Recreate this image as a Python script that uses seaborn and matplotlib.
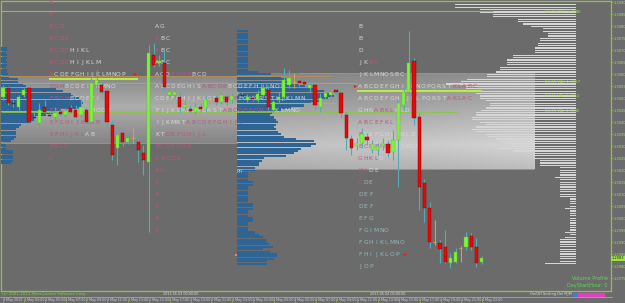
import numpy as np
import matplotlib
matplotlib.use("Agg")
import matplotlib.pyplot as plt
from matplotlib.lines import Line2D
import seaborn as sns

sns.set_theme(style="dark")
plt.rcParams['font.family'] = ['DejaVu Sans']

# ---------------- data ----------------
opens = [1.30504, 1.30542, 1.30479, 1.30463, 1.30513, 1.30542, 1.30421, 1.30396, 1.30463, 1.30429,
         1.30421, 1.30442, 1.30429, 1.30458, 1.30450, 1.30429, 1.30450, 1.30400, 1.30554, 1.30554,
         1.30529, 1.30388, 1.30292, 1.30354, 1.30317, 1.30333, 1.30317, 1.30271, 1.30233, 1.30679,
         1.30646, 1.30646, 1.30513, 1.30513, 1.30504, 1.30463, 1.30454, 1.30442, 1.30463, 1.30458,
         1.30492, 1.30500, 1.30483, 1.30504, 1.30492, 1.30521, 1.30513, 1.30492, 1.30500, 1.30492,
         1.30513, 1.30533, 1.30450, 1.30492, 1.30504, 1.30554, 1.30567, 1.30571, 1.30567, 1.30542,
         1.30554, 1.30463, 1.30504, 1.30513, 1.30533, 1.30521, 1.30429, 1.30329, 1.30300, 1.30313,
         1.30338, 1.30283, 1.30283, 1.30300, 1.30308, 1.30275, 1.30325, 1.30471, 1.30525, 1.30654,
         1.30421, 1.30146, 1.30042, 1.29900, 1.29896, 1.29879, 1.29813, 1.29817, 1.29875, 1.29879,
         1.29925, 1.29879, 1.29817]
highs = [1.30554, 1.30550, 1.30492, 1.30513, 1.30542, 1.30554, 1.30442, 1.30479, 1.30492, 1.30442,
         1.30463, 1.30450, 1.30458, 1.30471, 1.30471, 1.30500, 1.30463, 1.30608, 1.30617, 1.30567,
         1.30546, 1.30408, 1.30379, 1.30375, 1.30342, 1.30379, 1.30333, 1.30304, 1.30721, 1.30729,
         1.30679, 1.30700, 1.30542, 1.30538, 1.30525, 1.30492, 1.30471, 1.30479, 1.30475, 1.30508,
         1.30504, 1.30513, 1.30525, 1.30517, 1.30521, 1.30529, 1.30525, 1.30517, 1.30513, 1.30533,
         1.30558, 1.30554, 1.30492, 1.30525, 1.30625, 1.30617, 1.30604, 1.30588, 1.30583, 1.30575,
         1.30563, 1.30521, 1.30542, 1.30542, 1.30550, 1.30533, 1.30442, 1.30346, 1.30333, 1.30375,
         1.30354, 1.30325, 1.30313, 1.30333, 1.30325, 1.30367, 1.30492, 1.30542, 1.30783, 1.30667,
         1.30438, 1.30163, 1.30067, 1.29992, 1.29908, 1.29950, 1.29854, 1.29875, 1.29883, 1.29942,
         1.29938, 1.29917, 1.29842]
lows = [1.30492, 1.30471, 1.30463, 1.30450, 1.30504, 1.30396, 1.30400, 1.30379, 1.30438, 1.30417,
        1.30408, 1.30425, 1.30421, 1.30438, 1.30417, 1.30421, 1.30396, 1.30396, 1.30542, 1.30517,
        1.30367, 1.30242, 1.30221, 1.30300, 1.30308, 1.30313, 1.30233, 1.30179, 1.29942, 1.30629,
        1.30633, 1.30525, 1.30504, 1.30500, 1.30438, 1.30450, 1.30438, 1.30429, 1.30446, 1.30442,
        1.30479, 1.30471, 1.30475, 1.30471, 1.30479, 1.30513, 1.30500, 1.30483, 1.30488, 1.30483,
        1.30500, 1.30450, 1.30438, 1.30479, 1.30492, 1.30542, 1.30542, 1.30550, 1.30546, 1.30525,
        1.30450, 1.30442, 1.30492, 1.30492, 1.30513, 1.30417, 1.30283, 1.30263, 1.30283, 1.30292,
        1.30304, 1.30271, 1.30263, 1.30283, 1.30254, 1.30242, 1.30129, 1.30450, 1.30513, 1.30388,
        1.30033, 1.29983, 1.29875, 1.29888, 1.29813, 1.29813, 1.29792, 1.29813, 1.29817, 1.29867,
        1.29867, 1.29796, 1.29808]
closes = [1.30542, 1.30479, 1.30475, 1.30504, 1.30533, 1.30400, 1.30417, 1.30450, 1.30442, 1.30425,
          1.30438, 1.30433, 1.30446, 1.30442, 1.30421, 1.30463, 1.30400, 1.30563, 1.30575, 1.30525,
          1.30400, 1.30263, 1.30346, 1.30317, 1.30333, 1.30333, 1.30283, 1.30242, 1.30688, 1.30638,
          1.30654, 1.30546, 1.30525, 1.30525, 1.30463, 1.30471, 1.30446, 1.30463, 1.30454, 1.30492,
          1.30492, 1.30483, 1.30513, 1.30483, 1.30508, 1.30521, 1.30508, 1.30504, 1.30496, 1.30517,
          1.30542, 1.30463, 1.30483, 1.30504, 1.30575, 1.30583, 1.30567, 1.30563, 1.30558, 1.30554,
          1.30471, 1.30500, 1.30521, 1.30525, 1.30525, 1.30438, 1.30333, 1.30292, 1.30313, 1.30350,
          1.30325, 1.30308, 1.30296, 1.30313, 1.30271, 1.30325, 1.30479, 1.30525, 1.30646, 1.30417,
          1.30129, 1.30042, 1.29900, 1.29900, 1.29871, 1.29817, 1.29833, 1.29858, 1.29875, 1.29921,
          1.29879, 1.29813, 1.29833]

# volume profile 3 May (blue, from price 1.3071 downwards, 1 pip rows)
blue1_top = 1.3071
blue1_vol = [6, 6, 5, 6, 6, 5, 6, 6, 5, 6, 6, 7, 8, 17, 17, 22, 25, 55, 62, 70,
             72, 78, 80, 82, 80, 78, 60, 55, 45, 33, 33, 30, 20, 18, 15, 15, 15, 15, 13, 10,
             5, 5, 5, 12, 12, 12, 12, 12, 10]
# volume profile 4 May (blue, from price 1.3078 downwards)
blue2_top = 1.3078
blue2_vol = [11] * 17 + [21, 35, 45, 50, 55, 62, 70, 80, 88, 95, 98, 92, 85, 75, 68, 55, 45, 36, 34,
             38, 40, 42, 40, 38, 40, 42, 45, 48,
             60, 78, 80, 75, 65, 62, 58, 50, 28, 25, 22, 22, 18, 18,
             11, 11, 11, 11, 16, 16, 11, 11, 11, 11, 11, 11, 11, 16, 16, 16, 11, 11, 11, 16, 16,
             11, 11, 11, 11, 18, 22, 26, 30, 31, 33, 37, 27, 34, 41, 41, 38, 31, 31]
# right-hand profile (white lines, from price 1.3089 downwards)
white_top = 1.3089
white_vol = [121, 121, 96, 96, 83, 83, 58, 58, 53, 45, 33, 33, 28, 28, 36, 36, 38, 38, 41, 41,
             41, 63, 63, 69, 69, 69, 76, 76, 80, 89, 89, 109, 115, 130, 110, 110, 105, 100, 96, 96,
             90, 86, 86, 90, 95, 100, 100, 104, 104, 96, 90, 100, 104, 100, 90, 88, 80, 76, 70, 64,
             78, 63, 43, 43, 43, 36, 36, 36, 16, 16, 16, 16, 21, 16, 16, 16, 16, 16, 16, 16,
             16, 6, 6, 6, 6, 11, 6, 6, 6, 6, 6, 6, 6, 6, 6, 11, 6, 11, 16, 16,
             16, 16, 16, 16, 16, 16, 16, 16, 31]

# value-area bands: (x start bar, x end bar, high price, low price)
band1 = (-0.4, 44.9, 1.30588, 1.30313)
band2 = (44.9, 102.1, 1.30604, 1.30204)

# horizontal level lines: price, from bar, to bar, colour, width
levels = [
    (1.30863, -0.4, 94.2, '#8cc63f', 0.8),
    (1.30592, -0.4, 63.0, '#b09060', 0.7),
    (1.30604, 57.0, 94.2, '#b09060', 0.7),
    (1.30563, -0.4, 68.0, '#8cc63f', 0.6),
    (1.30579, 8.8, 25.9, '#b8f040', 1.4),
    (1.30529, 68.1, 92.1, '#b8f040', 1.4),
    (1.30479, 29.0, 64.3, '#8cc63f', 0.8),
    (1.30442, -0.4, 87.3, '#8cc63f', 0.6),
    (1.30313, -0.4, 44.9, '#b09060', 0.7),
    (1.30204, 44.9, 102.1, '#b09060', 0.7),
]

# TPO letter columns (lowercase = earlier period, drawn pink)
tpo_col1_x = 9.2
tpo_col1 = [(1.3090, "b"), (1.3085, "b"), (1.3080, "bcd"), (1.3075, "bcde"),
            (1.3070, "bcdeHIKL"), (1.3065, "bcdeHIJKLM"), (1.3060, "bCDEFGHIJKLMNOP"),
            (1.3055, "eghBCDEIJKMNO"), (1.3050, "efghBCDEFI"), (1.3045, "efghIJKLMODE"),
            (1.3040, "efghijklab"), (1.3035, "efhijklAB"), (1.3030, "eglo"), (1.3025, "c")]
tpo_col2_x = 29.6
tpo_col2 = [(1.3080, "AG"), (1.3075, "aBC"), (1.3070, "aBC"), (1.3065, "ABC"),
            (1.3060, "ACOefghBCD"), (1.3055, "ABCDEGHISabcdeBCDEFHIJNOP"),
            (1.3050, "CDEFGHIJKLGSTcdeFGHQRSTIJKLMN"), (1.3045, "FIJKLMNOPQRSTabcdefghijKLMNO"),
            (1.3040, "IJKMRTabcdefghijl"), (1.3035, "KTdefghijl"), (1.3030, "bcdefgh"),
            (1.3025, "abcde"), (1.3020, "aa"), (1.3015, "a"), (1.3010, "a"), (1.3005, "a"),
            (1.3000, "a"), (1.2995, "a")]
tpo_col3_x = 68.7
tpo_col3 = [(1.3080, "B"), (1.3075, "B"), (1.3070, "D"), (1.3065, "JKbc"), (1.3060, "JKLMNOSBC"),
            (1.3055, "ABCDEFGHIJKNOPQRSTklabc"), (1.3050, "ABCDEFGHIJKLPQRSTaklac"),
            (1.3045, "GHRabklKLD"), (1.3040, "abcefkl"), (1.3035, "bDEFGHIJKLD"),
            (1.3030, "bcdefghIJKLD"), (1.3025, "ghklD"), (1.3020, "hiDE"), (1.3015, "cDE"),
            (1.3010, "DEF"), (1.3005, "DEF"), (1.3000, "EFG"), (1.2995, "FGIMNO"),
            (1.2990, "FGHIKLMNO"), (1.2985, "FHIJKLOP"), (1.2980, "JOP")]

price_ticks = [1.2975, 1.2980, 1.2985, 1.2990, 1.2995, 1.3000, 1.3005, 1.3010, 1.3015, 1.3020,
               1.3025, 1.3030, 1.3035, 1.3040, 1.3045, 1.3050, 1.3055, 1.3060, 1.3065, 1.3070,
               1.3075, 1.3080, 1.3085, 1.3090]
time_labels = ["3 May 2013", "3 May 03:00", "3 May 05:00", "3 May 07:00", "3 May 09:00", "3 May 11:00",
               "3 May 13:00", "3 May 15:00", "3 May 17:00", "3 May 19:00", "3 May 21:00", "3 May 23:00",
               "4 May 01:00", "4 May 03:00", "4 May 05:00", "4 May 07:00", "4 May 09:00", "4 May 11:00",
               "4 May 13:00", "4 May 15:00", "4 May 17:00", "4 May 19:00", "4 May 21:00", "4 May 23:00"]
bars_per_label = 4
poc_labels = [(1.30863, "04.05 POC 1.3086"), (1.30571, "04.05 VAH 1.3057"),
              (1.30513, "04.05 VAL 1.3051"), (1.30450, "04.05 VAL 1.3045")]
last_price = 1.29833

# ---------------- style ----------------
BG = '#6b6b6b'
GREEN_BODY = '#7cf53a'
RED_BODY = '#e40a0a'
WICK = '#55aab4'
DOJI = '#c8a060'
AXGREEN = '#8cc63f'
PINK = '#c2527f'
LETTER = '#d8d8d8'
LETTER_LOW = '#96b9bb'

W, H = 625, 303
fig = plt.figure(figsize=(W / 100, H / 100), dpi=100, facecolor=BG)
ax = fig.add_axes([1.0 / W, 12.0 / H, 610.0 / W, 290.5 / H])
ax.set_facecolor(BG)
ax.grid(False)
px_per_bar = 5.21
ax.set_xlim(-2 / px_per_bar, 609 / px_per_bar)
ax.set_ylim(1.296958, 1.309083)

n = len(opens)
idx = np.arange(n)

# bands with gradients
def vgrad(n_rows, stops):
    t = np.linspace(0, 1, n_rows)
    xs = [s[0] for s in stops]
    vals = [s[1] for s in stops]
    return np.interp(t, xs, vals)

g1 = vgrad(200, [(0, 0.54), (0.45, 0.68), (1, 0.52)])[:, None] * np.ones((1, 10))
ax.imshow(g1, extent=(band1[0], band1[1], band1[3], band1[2]), aspect='auto', cmap='gray',
          vmin=0, vmax=1, zorder=1, interpolation='bilinear')
gv = vgrad(200, [(0, 0.54), (0.3, 0.63), (0.75, 0.79), (1, 0.70)])
gh = np.interp(np.linspace(0, 1, 100), [0, 0.6, 1], [0.95, 1.0, 1.06])
g2 = np.clip(gv[:, None] * gh[None, :], 0, 1)
ax.imshow(g2, extent=(band2[0], band2[1], band2[3], band2[2]), aspect='auto', cmap='gray',
          vmin=0, vmax=1, zorder=1, interpolation='bilinear')

# right white profile (right aligned)
right_edge = 574 / px_per_bar
wv = np.array(white_vol) / px_per_bar
wy = white_top - 0.0001 * np.arange(len(white_vol))
ax.barh(wy, wv, left=right_edge - wv, height=0.00005, color='#d6d6d6', zorder=2, linewidth=0)

# blue profiles
b1 = np.array(blue1_vol) / px_per_bar
b1y = blue1_top - 0.0001 * np.arange(len(blue1_vol))
ax.barh(b1y, b1, left=-0.4, height=0.000085, color='#2f6594', zorder=3, linewidth=0)
b2 = np.array(blue2_vol) / px_per_bar
b2y = blue2_top - 0.0001 * np.arange(len(blue2_vol))
ax.barh(b2y, b2, left=44.9, height=0.000085, color='#2f6594', zorder=3, linewidth=0)

# level lines
for price, x0, x1, col, lw in levels:
    ax.hlines(price, x0, x1, color=col, lw=lw, zorder=4)

# TPO letters
def draw_tpo(x0, rows, low_color=None):
    for price, s in rows:
        for j, ch in enumerate(s):
            col = PINK if ch.islower() else LETTER
            if low_color is not None and price <= 1.3015 and not ch.islower():
                col = low_color
            ax.text(x0 + j, price, ch.upper(), ha='center', va='center', fontsize=4.3,
                    color=col, zorder=5)

draw_tpo(tpo_col1_x, tpo_col1)
draw_tpo(tpo_col2_x, tpo_col2)
draw_tpo(tpo_col3_x, tpo_col3, low_color=LETTER_LOW)
ax.scatter([25.4, 67.6, 77.2], [1.3060, 1.3055, 1.2985], marker='>', s=5, color='#e02020', zorder=5,
           linewidths=0)
ax.text(44.9, 1.30196, "Pri", fontsize=3.5, color='#b8f040', va='center', ha='left', zorder=6)
ax.scatter([44.8], [1.29846], marker='s', s=4, color='#f08080', zorder=6, linewidths=0)

# candles
o = np.array(opens); c = np.array(closes); h = np.array(highs); l = np.array(lows)
doji = np.isclose(o, c)
ax.vlines(idx[~doji], l[~doji], h[~doji], color=WICK, lw=0.8, zorder=6)
ax.vlines(idx[doji], l[doji], h[doji], color=DOJI, lw=0.8, zorder=6)
ax.hlines(c[doji], idx[doji] - 0.3, idx[doji] + 0.3, color=DOJI, lw=0.8, zorder=7)
up = (c > o) & ~doji
dn = (c < o) & ~doji
ax.bar(idx[up], c[up] - o[up], bottom=o[up], width=0.62, color=GREEN_BODY,
       edgecolor='#5cc02a', linewidth=0.3, zorder=7)
ax.bar(idx[dn], o[dn] - c[dn], bottom=c[dn], width=0.62, color=RED_BODY,
       edgecolor='#8a0000', linewidth=0.3, zorder=7)

# axes frame
for side in ['left', 'right', 'top', 'bottom']:
    ax.spines[side].set_visible(True)
    ax.spines[side].set_color(AXGREEN)
    ax.spines[side].set_linewidth(0.9)

ax.yaxis.tick_right()
ax.set_yticks(price_ticks)
ax.set_yticklabels([f"{p:.4f}" for p in price_ticks])
ax.tick_params(axis='y', colors=AXGREEN, labelsize=2.6, length=1.2, width=0.5, pad=0.6,
               labelcolor='#a8d27a')

tick_pos = [k * bars_per_label for k in range(len(time_labels))]
ax.set_xticks(tick_pos)
ax.set_xticklabels(time_labels)
ax.tick_params(axis='x', colors=AXGREEN, labelsize=2.3, length=0, width=0.5, pad=5.0,
               labelcolor='#d4d4d4')
for t in ax.get_xticklabels():
    t.set_ha('left')

# current price box
ax.text(1.0015, last_price, f"{last_price:.4f}", transform=ax.get_yaxis_transform(),
        fontsize=2.6, color='#203010', va='center', ha='left', zorder=10,
        bbox=dict(boxstyle='square,pad=0.15', fc='#9de04a', ec='none'), clip_on=False)

# POC labels
for price, txt in poc_labels:
    ax.text(543 / px_per_bar, price - 0.00003, txt, fontsize=2.8, color='#a8e05a', va='center',
            ha='left', zorder=8)

# corner texts
ax.text(0.995, 0.035, "Volume Profile", transform=ax.transAxes, fontsize=3.6, color='#5fd35f',
        ha='right', va='bottom', zorder=9)
ax.text(0.995, 0.012, "DayStartHour: 0", transform=ax.transAxes, fontsize=3.6, color='#5fd35f',
        ha='right', va='bottom', zorder=9)

# separators on the time scale
for k in range(len(time_labels)):
    xf = (1 + 2 + 5.21 * k * bars_per_label) / W
    fig.add_artist(Line2D([xf, xf], [0.0, 4.5 / H], color=AXGREEN, lw=0.4))
fig.add_artist(Line2D([0, 612 / W], [1 - 297 / H, 1 - 297 / H], color=AXGREEN, lw=0.6))
fig.text(2 / W, 1 - 294.3 / H, "(c) 2001-2013 MetaQuotes Software Corp.", fontsize=2.9,
         color='#7fd040', va='center', ha='left')
fig.text(163 / W, 1 - 294.3 / H, "2013.05.03 00:00:00", fontsize=2.4, color='#dcdcdc', va='center')
fig.text(370 / W, 1 - 294.3 / H, "2013.05.04 00:00:00", fontsize=2.4, color='#dcdcdc', va='center')
fig.text(530 / W, 1 - 294.3 / H, "On/Off Setting Dnl MJM", fontsize=2.6, color='#dcdcdc', va='center')
sq_cols = ['#4a78d8', '#e040c0', '#e040c0', '#e040c0', '#e040c0', '#e040c0', '#e040c0']
for k, col in enumerate(sq_cols):
    fig.patches.append(plt.Rectangle(((573 + 4.5 * k) / W, 1 - 296 / H), 3.5 / W, 3.5 / H,
                                     color=col, transform=fig.transFigure, figure=fig))

fig.savefig("out.png", dpi=100, facecolor=BG)
